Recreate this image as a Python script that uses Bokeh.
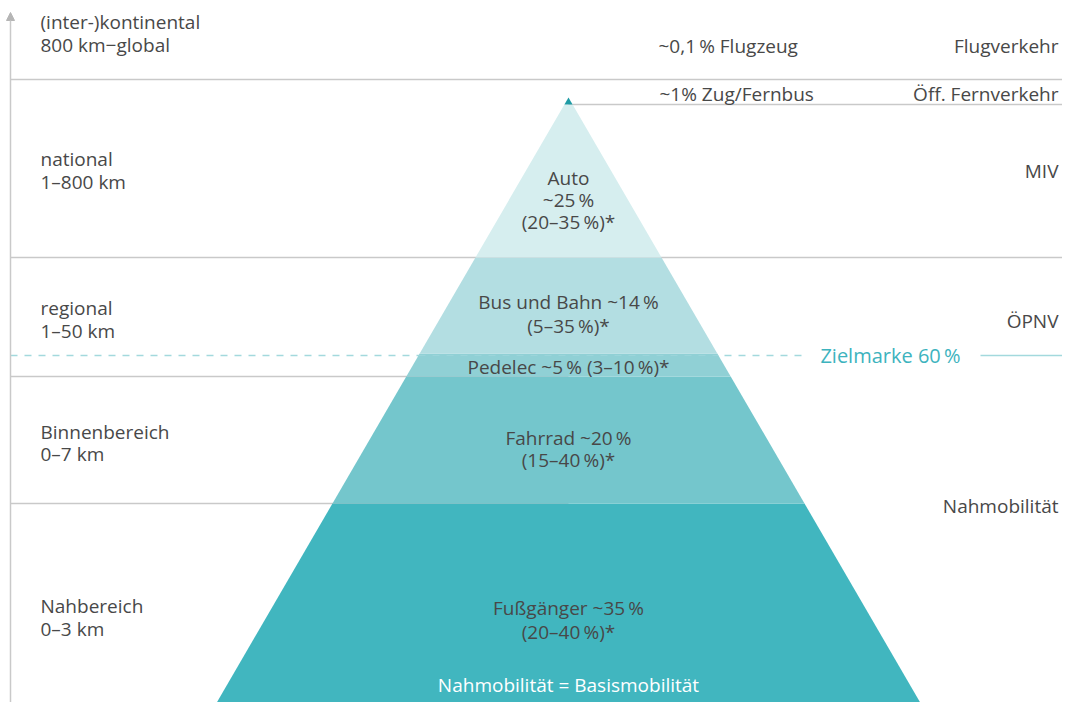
from bokeh.plotting import figure
from bokeh.models import Range1d, Arrow, NormalHead
from bokeh.core.properties import value
from bokeh.embed import file_html
from bokeh.resources import INLINE

# ---------------- data ----------------
# pyramid bands (bottom -> top), level = vertical position on the distance scale
modes = ["Fußgänger", "Fahrrad", "Pedelec", "Bus und Bahn", "Auto", "Zug/Fernbus"]
band_low = [718, 503, 376, 353, 257, 104]
band_high = [503, 376, 353, 257, 104, 97]
band_colors = ["#41b6bf", "#74c6cc", "#90d0d5", "#b3dee2", "#d6eeef", "#1f9ba5"]

# labels inside the pyramid
pyr_lines = ["Auto", "~25\u2009%", "(20–35\u2009%)*",
             "Bus und Bahn ~14\u2009%", "(5–35\u2009%)*",
             "Pedelec ~5\u2009% (3–10\u2009%)*",
             "Fahrrad ~20\u2009%", "(15–40\u2009%)*",
             "Fußgänger ~35\u2009%", "(20–40\u2009%)*"]
pyr_level = [177, 199, 221, 301, 325, 366, 437, 459, 607, 631]

# distance zones (left)
zone_lines = ["(inter-)kontinental", "800 km−global",
              "national", "1–800 km",
              "regional", "1–50 km",
              "Binnenbereich", "0–7 km",
              "Nahbereich", "0–3 km"]
zone_level = [21, 44, 158, 181, 307, 330, 431, 453, 605, 628]

# traffic categories (right)
cat_lines = ["Flugverkehr", "Öff. Fernverkehr", "MIV", "ÖPNV", "Nahmobilität"]
cat_level = [45, 93, 170, 320, 505]

# small shares at the top
top_lines = ["~0,1\u2009% Flugzeug", "~1% Zug/Fernbus"]
top_level = [45, 93]

# separators: level, start, end
sep_level = [79, 104, 257, 376, 503]
sep_start = [10, 568, 10, 10, 10]
sep_end = [1078, 1078, 1078, 568, 568]

target_label = "Zielmarke 60\u2009%"
target_level = 355
base_label = "Nahmobilität = Basismobilität"
base_level = 684

# geometry of the pyramid
apex_x, apex_y = 568, 97
base_y, base_half = 718, 361

def half_width(y):
    return base_half * (y - apex_y) / (base_y - apex_y)

FONT = value("Open Sans")
TXT = "#484848"
GRID = "#c9c9c9"
TEAL = "#3db3be"
DASH = "#a3d9dd"

p = figure(width=1062, height=702, output_backend="svg", toolbar_location=None,
           x_range=Range1d(0, 1062), y_range=Range1d(702, 0), min_border=0)
p.axis.visible = False
p.grid.visible = False
p.outline_line_color = None
p.background_fill_color = "white"

# separators
p.segment(x0=sep_start, y0=sep_level, x1=sep_end, y1=sep_level,
          line_color=GRID, line_width=1.5)

# target line (left dashed part, right solid part)
p.segment(x0=[10], y0=[target_level], x1=[802], y1=[target_level],
          line_color=DASH, line_width=1.5, line_dash="7 7")
p.segment(x0=[980], y0=[target_level], x1=[1078], y1=[target_level],
          line_color=DASH, line_width=1.5)

# pyramid bands
xs, ys = [], []
for lo, hi in zip(band_low, band_high):
    xs.append([apex_x - half_width(lo), apex_x + half_width(lo),
               apex_x + half_width(hi), apex_x - half_width(hi)])
    ys.append([lo, lo, hi, hi])
p.patches(xs=xs, ys=ys, fill_color=band_colors, line_color=None)

# dashed target line visible across the pyramid
p.segment(x0=[apex_x - half_width(target_level)], y0=[target_level],
          x1=[apex_x + half_width(target_level)], y1=[target_level],
          line_color=DASH, line_width=1.2, line_dash="7 7", line_alpha=0.6)

# vertical axis arrow
p.add_layout(Arrow(end=NormalHead(size=8, fill_color="#b5b5b5", line_color="#b5b5b5"),
                   x_start=10, y_start=718, x_end=10, y_end=12,
                   line_color="#c9c9c9", line_width=1.5))

# texts
p.text(x=[40] * len(zone_lines), y=zone_level, text=zone_lines,
       text_font=FONT, text_font_size="19px", text_color=TXT,
       text_align="left", text_baseline="middle")
p.text(x=[1058] * len(cat_lines), y=cat_level, text=cat_lines,
       text_font=FONT, text_font_size="19px", text_color=TXT,
       text_align="right", text_baseline="middle")
p.text(x=[658, 659], y=top_level, text=top_lines,
       text_font=FONT, text_font_size="19px", text_color=TXT,
       text_align="left", text_baseline="middle")
p.text(x=[apex_x] * len(pyr_lines), y=pyr_level, text=pyr_lines,
       text_font=FONT, text_font_size="19px", text_color=TXT,
       text_align="center", text_baseline="middle")
p.text(x=[890], y=[target_level], text=[target_label],
       text_font=FONT, text_font_size="20px", text_color=TEAL,
       text_align="center", text_baseline="middle")
p.text(x=[apex_x], y=[base_level], text=[base_label],
       text_font=FONT, text_font_size="19px", text_color="white",
       text_align="center", text_baseline="middle")

open("out.html", "w").write(file_html(p, INLINE))
